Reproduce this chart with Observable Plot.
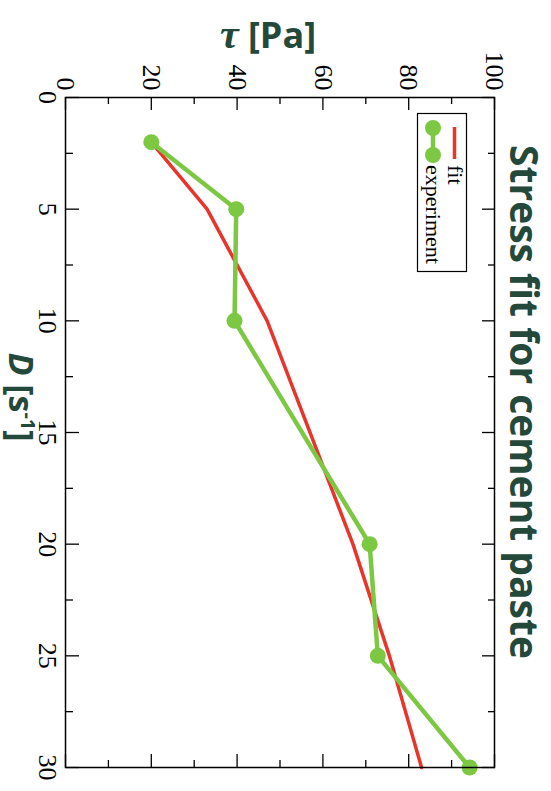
<!DOCTYPE html>
<html><head><meta charset="utf-8">
<script src="https://cdn.jsdelivr.net/npm/d3@7"></script>
<script src="https://cdn.jsdelivr.net/npm/@observablehq/plot@0.6"></script>
<style>
html,body{margin:0;padding:0;background:#fff}
body{width:551px;height:791px;overflow:hidden;position:relative}
#rot{position:absolute;left:0;top:0;width:791px;height:551px;transform-origin:0 0;transform:translate(551px,0) rotate(90deg);background:#fff}
#rot svg{position:absolute;left:0;top:0}
</style></head><body>
<div id="rot"></div>
<script>
// data
const D = [2, 5, 10, 20, 25, 30];
const tauExperiment = [20, 39.8, 39.4, 70.9, 72.8, 94.2];
const tauFit = [20, 33, 47, 67, 75.5, 83];
const dTicks = [0, 5, 10, 15, 20, 25, 30];
const dMinorTicks = [2.5, 7.5, 12.5, 17.5, 22.5, 27.5];
const tauTicks = [0, 20, 40, 60, 80, 100];
const tauMinorTicks = [10, 30, 50, 70, 90];
const seriesNames = ["fit", "experiment"];
const seriesColors = ["#e8342b", "#7cc843"];
const titleText = "Stress fit for cement paste";

const fitData = D.map((d, i) => ({D: d, tau: tauFit[i]}));
const expData = D.map((d, i) => ({D: d, tau: tauExperiment[i]}));

const W = 791, H = 551, mL = 97, mR = 24, mT = 56, mB = 66;
const pw = W - mL - mR, ph = H - mT - mB;
const major = 13, minor = 7;
const tk = {stroke: "black", strokeWidth: 1.3};

const chart = Plot.plot({
  width: W, height: H,
  marginLeft: mL, marginRight: mR, marginTop: mT, marginBottom: mB,
  style: {fontFamily: "'Liberation Serif', 'Times New Roman', serif", fontSize: "26px", color: "black", background: "white", overflow: "visible"},
  x: {domain: [0, 30]},
  y: {domain: [0, 100]},
  marks: [
    Plot.tickX(dTicks, {x: d => d, insetTop: ph - major, ...tk}),
    Plot.tickX(dTicks, {x: d => d, insetBottom: ph - major, ...tk}),
    Plot.tickX(dMinorTicks, {x: d => d, insetTop: ph - minor, ...tk}),
    Plot.tickX(dMinorTicks, {x: d => d, insetBottom: ph - minor, ...tk}),
    Plot.tickY(tauTicks, {y: d => d, insetRight: pw - major, ...tk}),
    Plot.tickY(tauTicks, {y: d => d, insetLeft: pw - major, ...tk}),
    Plot.tickY(tauMinorTicks, {y: d => d, insetRight: pw - minor, ...tk}),
    Plot.tickY(tauMinorTicks, {y: d => d, insetLeft: pw - minor, ...tk}),
    Plot.axisX({ticks: dTicks, tickSize: 0, tickPadding: 8, label: null, anchor: "bottom"}),
    Plot.axisY({ticks: tauTicks, tickSize: 0, tickPadding: 7, label: null, anchor: "left"}),
    Plot.line(fitData, {x: "D", y: "tau", stroke: seriesColors[0], strokeWidth: 3.5}),
    Plot.line(expData, {x: "D", y: "tau", stroke: seriesColors[1], strokeWidth: 4.5}),
    Plot.dot(expData, {x: "D", y: "tau", r: 8, fill: seriesColors[1]}),
    Plot.frame({stroke: "black", strokeWidth: 1.5})
  ]
});
const rot = document.getElementById("rot");
rot.appendChild(chart);

// overlay: title, axis labels, legend (in the unrotated frame)
const ov = d3.create("svg").attr("width", W).attr("height", H);
const lab = "#24483a";
ov.append("text").attr("x", 402).attr("y", 41).attr("text-anchor", "middle")
  .attr("font-family", "'Open Sans', sans-serif").attr("font-weight", 700).attr("font-size", 39)
  .attr("fill", lab).text(titleText);
const dl = ov.append("text").attr("x", 397).attr("y", 542).attr("text-anchor", "middle")
  .attr("font-family", "'Open Sans', sans-serif").attr("font-weight", 700).attr("font-size", 34).attr("fill", lab);
dl.append("tspan").attr("font-style", "italic").text("D");
dl.append("tspan").text(" [s");
dl.append("tspan").attr("font-size", 20).attr("dy", -12).text("-1");
dl.append("tspan").attr("dy", 12).text("]");
const tl = ov.append("text").attr("transform", "translate(48,283) rotate(-90)").attr("text-anchor", "middle")
  .attr("font-family", "'Open Sans', sans-serif").attr("font-weight", 700).attr("font-size", 36).attr("fill", lab);
tl.append("tspan").attr("font-family", "'Liberation Serif', serif").attr("font-style", "italic").attr("font-size", 42).text("τ");
tl.append("tspan").text(" [Pa]");
// legend
const lg = ov.append("g");
lg.append("rect").attr("x", 113.5).attr("y", 84.5).attr("width", 158).attr("height", 49)
  .attr("fill", "white").attr("stroke", "black").attr("stroke-width", 1.2);
lg.append("line").attr("x1", 127).attr("x2", 159).attr("y1", 96.5).attr("y2", 96.5)
  .attr("stroke", seriesColors[0]).attr("stroke-width", 3.5);
lg.append("line").attr("x1", 128).attr("x2", 155).attr("y1", 118).attr("y2", 118)
  .attr("stroke", seriesColors[1]).attr("stroke-width", 4.5);
[128, 155].forEach(cx => lg.append("circle").attr("cx", cx).attr("cy", 118).attr("r", 8).attr("fill", seriesColors[1]));
seriesNames.forEach((n, i) => lg.append("text").attr("x", 165).attr("y", i ? 125 : 103)
  .attr("font-family", "'Liberation Serif', serif").attr("font-size", 22).attr("fill", "black").text(n));
rot.appendChild(ov.node());
</script>
</body></html>
